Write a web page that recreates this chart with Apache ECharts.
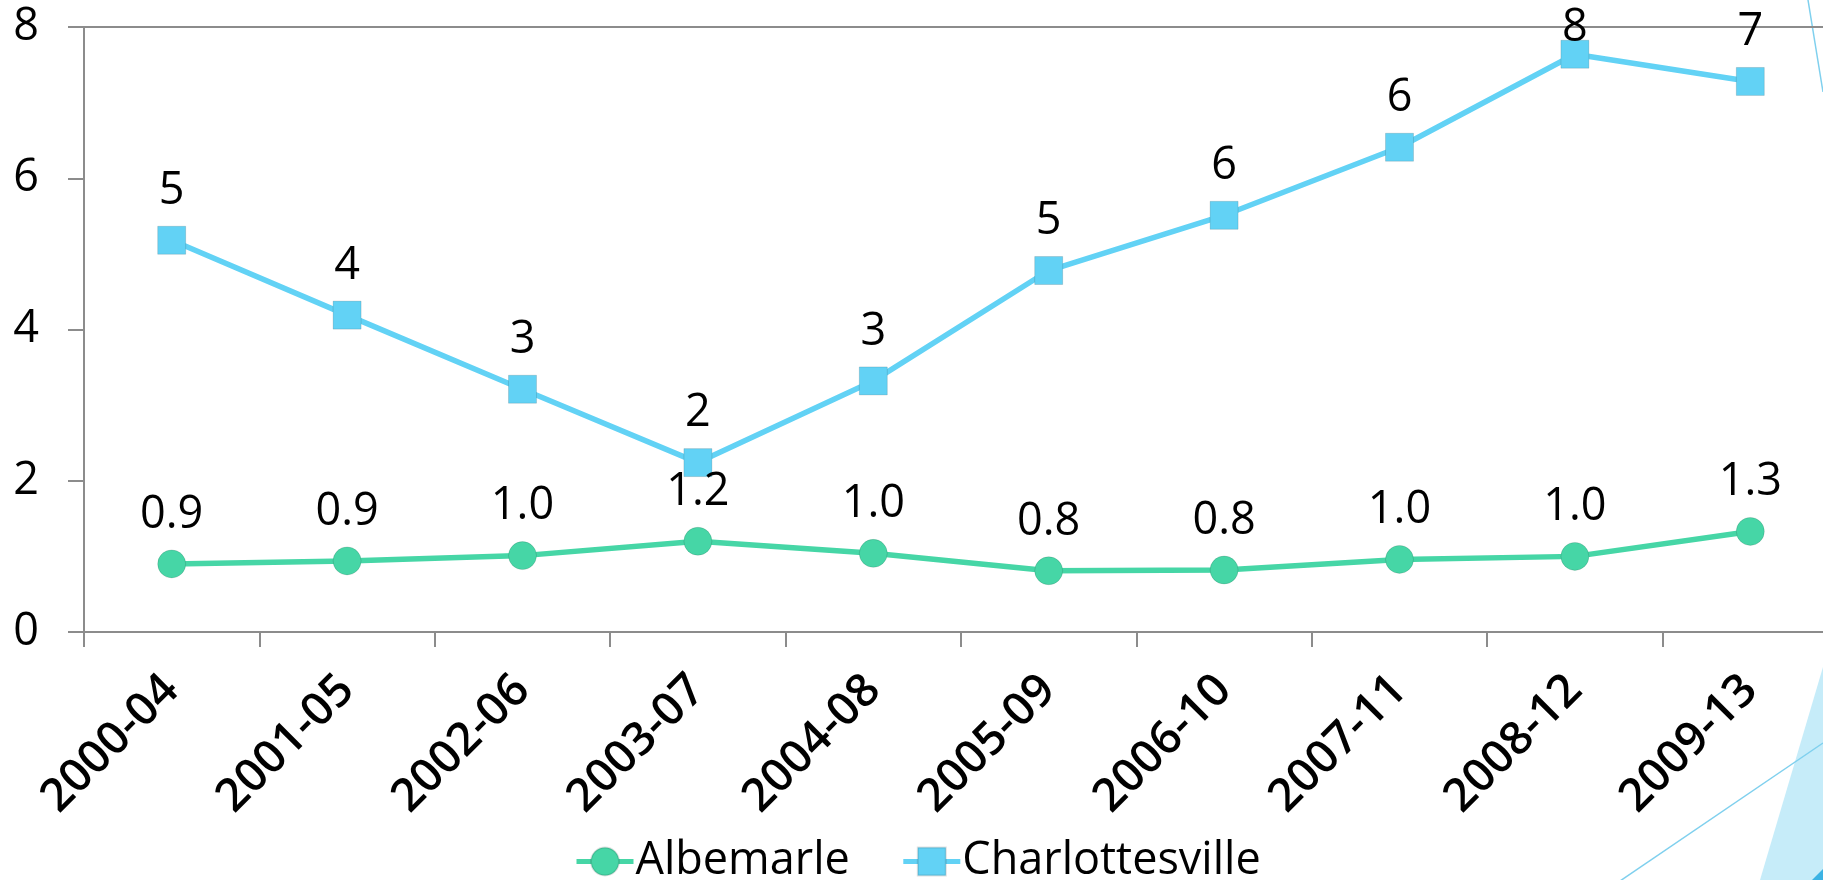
<!DOCTYPE html>
<html>
<head>
<meta charset="utf-8">
<script src="https://cdn.jsdelivr.net/npm/echarts@6/dist/echarts.min.js"></script>
<style>
  html, body { margin: 0; padding: 0; background: #ffffff; overflow: hidden; }
  /* the plot runs slightly past the right edge of the window */
  #chart { width: 1838px; height: 880px; }
</style>
</head>
<body>
<div id="chart"></div>
<script>
// Five-year periods
const categories = ['2000-04', '2001-05', '2002-06', '2003-07', '2004-08',
                    '2005-09', '2006-10', '2007-11', '2008-12', '2009-13'];
// Series values per period
const albemarle = [0.90, 0.94, 1.01, 1.20, 1.04, 0.81, 0.82, 0.96, 1.00, 1.33];
const charlottesville = [5.18, 4.19, 3.21, 2.24, 3.32, 4.78, 5.51, 6.41, 7.64, 7.28];
// Value axis ticks
const yTicks = [0, 2, 4, 6, 8];

const FONT = 'Open Sans';
const GREEN = '#46d6a6';
const BLUE = '#62d2f5';
const AXIS = '#8c8c8c';
const DECOR = '#7fd0ee';

const chart = echarts.init(document.getElementById('chart'), null, { renderer: 'canvas' });

// keep labels inside the top of the canvas
const clampTop = p => (p.labelRect.y < 6 ? { dy: 6 - p.labelRect.y } : {});

const labelStyle = {
  show: true,
  position: 'top',
  distance: 12,
  color: '#000',
  fontFamily: FONT,
  fontSize: 45,
  lineHeight: 45
};

chart.setOption({
  animation: false,
  backgroundColor: '#ffffff',
  grid: { left: 84, right: 0, top: 27, bottom: 248, containLabel: false },
  xAxis: [
    {
      type: 'category',
      data: categories,
      boundaryGap: true,
      axisLine: { show: true, lineStyle: { color: AXIS, width: 2 } },
      axisTick: { show: true, inside: false, length: 15, alignWithLabel: false,
                  lineStyle: { color: AXIS, width: 2 } },
      axisLabel: { rotate: 45, margin: 51, verticalAlign: 'middle', color: '#000',
                   fontFamily: FONT, fontSize: 46, fontWeight: 600, interval: 0 },
      splitLine: { show: false }
    },
    {
      type: 'category',
      data: categories,
      position: 'top',
      axisLine: { show: true, lineStyle: { color: AXIS, width: 2 } },
      axisTick: { show: false },
      axisLabel: { show: false },
      splitLine: { show: false }
    }
  ],
  yAxis: {
    type: 'value',
    min: yTicks[0],
    max: yTicks[yTicks.length - 1],
    interval: yTicks[1] - yTicks[0],
    axisLine: { show: true, lineStyle: { color: AXIS, width: 2 } },
    axisTick: { show: true, inside: false, length: 16, lineStyle: { color: AXIS, width: 2 } },
    axisLabel: { margin: 45, color: '#000', fontFamily: FONT, fontSize: 45 },
    splitLine: { show: false }
  },
  legend: {
    left: 569,
    top: 834,
    itemWidth: 57,
    itemHeight: 35,
    itemGap: 51,
    lineStyle: { width: 5 },
    textStyle: { color: '#000', fontFamily: FONT, fontSize: 45, lineHeight: 35,
                 padding: [0, 0, 0, -3] },
    data: ['Albemarle', 'Charlottesville']
  },
  series: [
    {
      name: 'Albemarle',
      type: 'line',
      data: albemarle,
      symbol: 'circle',
      symbolSize: 28,
      lineStyle: { color: GREEN, width: 5.5 },
      itemStyle: { color: GREEN, borderColor: 'rgba(0,0,0,0.12)', borderWidth: 1 },
      label: Object.assign({}, labelStyle, { formatter: p => p.value.toFixed(1) }),
      labelLayout: clampTop,
      z: 3
    },
    {
      name: 'Charlottesville',
      type: 'line',
      data: charlottesville,
      symbol: 'rect',
      symbolSize: 28,
      lineStyle: { color: BLUE, width: 5.5 },
      itemStyle: { color: BLUE, borderColor: 'rgba(0,0,0,0.12)', borderWidth: 1 },
      label: Object.assign({}, labelStyle, { formatter: p => p.value.toFixed(0) }),
      labelLayout: clampTop,
      z: 3
    }
  ],
  graphic: [
    { type: 'polygon', silent: true, z: -1,
      shape: { points: [[1760, 880], [1823, 667], [1823, 880]] },
      style: { fill: '#c6ecf9' } },
    { type: 'polygon', silent: true, z: -1,
      shape: { points: [[1812, 880], [1823, 869], [1823, 880]] },
      style: { fill: '#3cb3e4' } },
    { type: 'line', silent: true, z: -1,
      shape: { x1: 1620, y1: 881, x2: 1823, y2: 743 },
      style: { stroke: DECOR, lineWidth: 1.5 } },
    { type: 'line', silent: true, z: -1,
      shape: { x1: 1808, y1: 0, x2: 1823, y2: 92 },
      style: { stroke: DECOR, lineWidth: 1.5 } }
  ]
});
</script>
</body>
</html>
